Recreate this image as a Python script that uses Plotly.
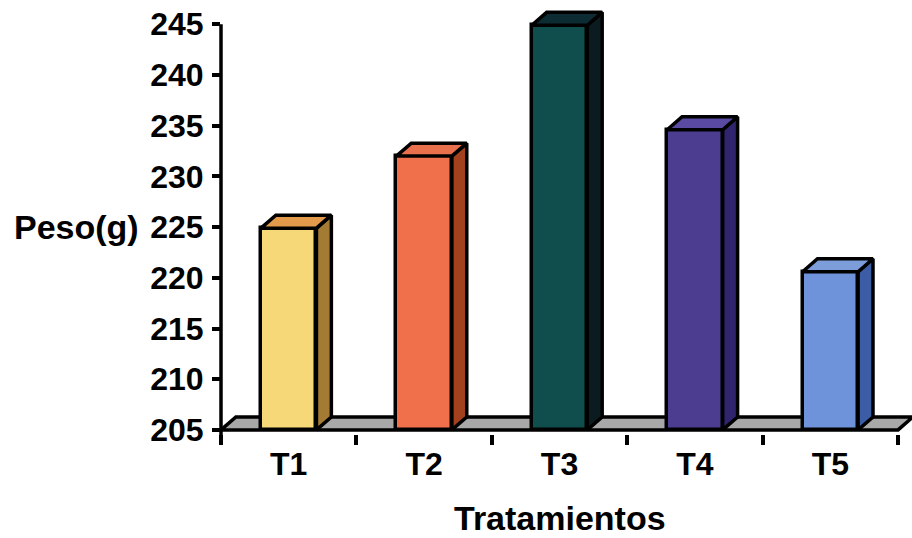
import plotly.graph_objects as go

# ---- data -------------------------------------------------------------
categories = ["T1", "T2", "T3", "T4", "T5"]
peso = [224.9, 232.0, 244.9, 234.6, 220.6]
y_tick_values = [205, 210, 215, 220, 225, 230, 235, 240, 245]

# face colours of each pseudo-3D column: front, right side, top
front_colors = ["#F6D878", "#F0704C", "#0F4E4C", "#4D3D90", "#6F93DA"]
side_colors = ["#A37B33", "#A3401E", "#0B1C20", "#30246E", "#3D5CA6"]
top_colors = ["#E39A4A", "#E8704C", "#0D2B33", "#5A4AA2", "#7C9CDA"]
floor_color = "#A8A8A8"

# ---- geometry ---------------------------------------------------------
W, H = 912, 538
BASE, TOP = 205, 245
y_lo, y_hi = 204.6, 247.0
px_per_unit = 10.15
plot_left = 221
plot_top = 4
plot_h = (y_hi - y_lo) * px_per_unit
margin_b = H - plot_top - plot_h

x_lo, x_hi = -0.5, 4.603
bar_w = 0.41
depth_x = 0.11   # receding offset along x (category units)
depth_y = 1.28   # receding offset along y (value units)
EDGE = 3.5

FONT = "Liberation Sans, Arial, sans-serif"
xs = list(range(len(categories)))

fig = go.Figure()

# front faces
fig.add_trace(go.Bar(
    x=xs, y=[v - BASE for v in peso], base=BASE, width=bar_w,
    marker=dict(color=front_colors, line=dict(color="black", width=EDGE)),
    hoverinfo="skip", showlegend=False,
))

# right side and top faces
for i, v in enumerate(peso):
    xr = i + bar_w / 2
    xl = i - bar_w / 2
    fig.add_trace(go.Scatter(
        x=[xr, xr + depth_x, xr + depth_x, xr, xr],
        y=[BASE, BASE + depth_y, v + depth_y, v, BASE],
        mode="lines", fill="toself", fillcolor=side_colors[i],
        line=dict(color="black", width=EDGE), hoverinfo="skip", showlegend=False,
    ))
    fig.add_trace(go.Scatter(
        x=[xl, xr, xr + depth_x, xl + depth_x, xl],
        y=[v, v, v + depth_y, v + depth_y, v],
        mode="lines", fill="toself", fillcolor=top_colors[i],
        line=dict(color="black", width=EDGE), hoverinfo="skip", showlegend=False,
    ))

# floor slab under the columns
x0f, x1f = -0.5, len(categories) - 0.5
floor_path = (f"M {x0f},{BASE} L {x1f},{BASE} "
              f"L {x1f + depth_x},{BASE + depth_y} L {x0f + depth_x},{BASE + depth_y} Z")
shapes = [
    dict(type="path", path=floor_path, xref="x", yref="y", layer="below",
         fillcolor=floor_color, line=dict(color="black", width=EDGE)),
    # value axis line, ending at the top tick
    dict(type="line", xref="x domain", yref="y domain",
         x0=0, x1=0, y0=-0.02, y1=(TOP - y_lo) / (y_hi - y_lo),
         line=dict(color="black", width=EDGE)),
]

annotations = [
    dict(text="Peso(g)", xref="paper", yref="y", x=0, y=225,
         xanchor="right", yanchor="middle", xshift=-80, showarrow=False,
         font=dict(family=FONT, size=34, color="black", weight="bold")),
    dict(text="Tratamientos", xref="x", yref="paper", x=2, y=0,
         xanchor="center", yanchor="middle", yshift=-84, showarrow=False,
         font=dict(family=FONT, size=34, color="black", weight="bold")),
]

fig.update_layout(
    width=W, height=H,
    margin=dict(l=plot_left, r=W - plot_left - 691, t=plot_top, b=margin_b),
    paper_bgcolor="white", plot_bgcolor="white",
    shapes=shapes, annotations=annotations, bargap=0,
    xaxis=dict(
        range=[x_lo, x_hi], tickmode="array", tickvals=xs, ticktext=categories,
        ticks="outside", ticklen=1, tickcolor="rgba(0,0,0,0)",
        ticklabelstandoff=1,
        minor=dict(tickmode="array", tickvals=[c - 0.5 for c in xs] + [x1f],
                   ticks="outside", ticklen=10, tickwidth=EDGE, tickcolor="black"),
        showline=False, showgrid=False, zeroline=False,
        tickfont=dict(family=FONT, size=32, color="black", weight="bold"),
    ),
    yaxis=dict(
        range=[y_lo, y_hi], tickmode="array", tickvals=y_tick_values,
        ticks="outside", ticklen=8, tickwidth=EDGE, tickcolor="black",
        ticklabelstandoff=2,
        showline=False, showgrid=False, zeroline=False,
        tickfont=dict(family=FONT, size=32, color="black", weight="bold"),
    ),
)

fig.write_html("out.html")
